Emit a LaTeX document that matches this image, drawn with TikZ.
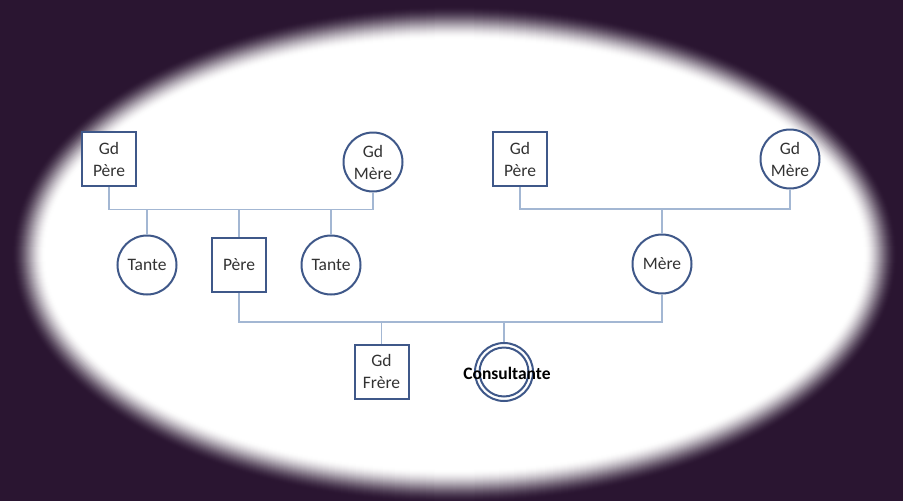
\documentclass[tikz,border=0pt]{standalone}
\usepackage{fontspec}
\setmainfont{Carlito}
\definecolor{bgpurple}{HTML}{2A1531}
\definecolor{nodeblue}{HTML}{3F5889}
\definecolor{linkblue}{HTML}{A3B7D3}
\definecolor{txtgrey}{HTML}{333333}
\tikzset{
  person/.style={draw=nodeblue, line width=2pt, fill=white, inner sep=0pt,
    align=center, text=txtgrey, font=\fontsize{17.5}{22}\selectfont},
  male/.style={person, rectangle, minimum size=54pt},
  female/.style={person, circle, minimum size=59pt},
  link/.style={draw=linkblue, line width=1.4pt},
}
\begin{document}
\begin{tikzpicture}[x=1pt, y=-1pt]
  % dark backdrop with a soft-edged white oval
  \useasboundingbox (0,0) rectangle (903,501);
  \fill[bgpurple] (0,0) rectangle (903,501);
  \foreach \i in {0,...,34}{
    \pgfmathsetmacro{\t}{\i/34}
    \pgfmathsetmacro{\p}{100*\t*\t*(3-2*\t)}
    \fill[white!\p!bgpurple] (454.5,254.5) ellipse [x radius={426.5+17-\i}, y radius={232.5+17-\i}];
  }

  % paternal side
  \node[male]   (gpP) at (109,159) {Gd\\Père};
  \node[female] (gmP) at (373,162) {Gd\\Mère};
  \node[female] (t1)  at (147,265) {Tante};
  \node[male]   (pere) at (239,265) {Père};
  \node[female] (t2)  at (331,265) {Tante};

  % maternal side
  \node[male]   (gpM) at (520,159) {Gd\\Père};
  \node[female] (gmM) at (790,159) {Gd\\Mère};
  \node[female] (mere) at (662,264) {Mère};

  % children
  \node[male] (frere) at (381.5,371.5) {Gd\\Frère};
  \node[circle, draw=nodeblue, line width=2pt, fill=white, minimum size=58pt, inner sep=0pt] (cons) at (504,372) {};
  \node[circle, draw=nodeblue, line width=2pt, minimum size=49pt, inner sep=0pt] (consin) at (cons.center) {};
  \node[font=\bfseries\fontsize{17.5}{20}\selectfont, text=black] (consl) at (507,373) {Consultante};

  % family bars
  \coordinate (barP) at (0,209.5);
  \coordinate (barM) at (0,209);
  \coordinate (barC) at (0,322);

  \path[link] (gpP.south) |- (barP -| gmP.south) -- (gmP.south);
  \path[link] (barP -| t1.north) -- (t1.north);
  \path[link] (barP -| pere.north) -- (pere.north);
  \path[link] (barP -| t2.north) -- (t2.north);

  \path[link] (gpM.south) |- (barM -| gmM.south) -- (gmM.south);
  \path[link] (barM -| mere.north) -- (mere.north);

  \path[link] (pere.south) |- (barC -| mere.south) -- (mere.south);
  \path[link] (barC -| frere.north) -- (frere.north);
  \path[link] (barC -| cons.north) -- (cons.north);
\end{tikzpicture}
\end{document}
